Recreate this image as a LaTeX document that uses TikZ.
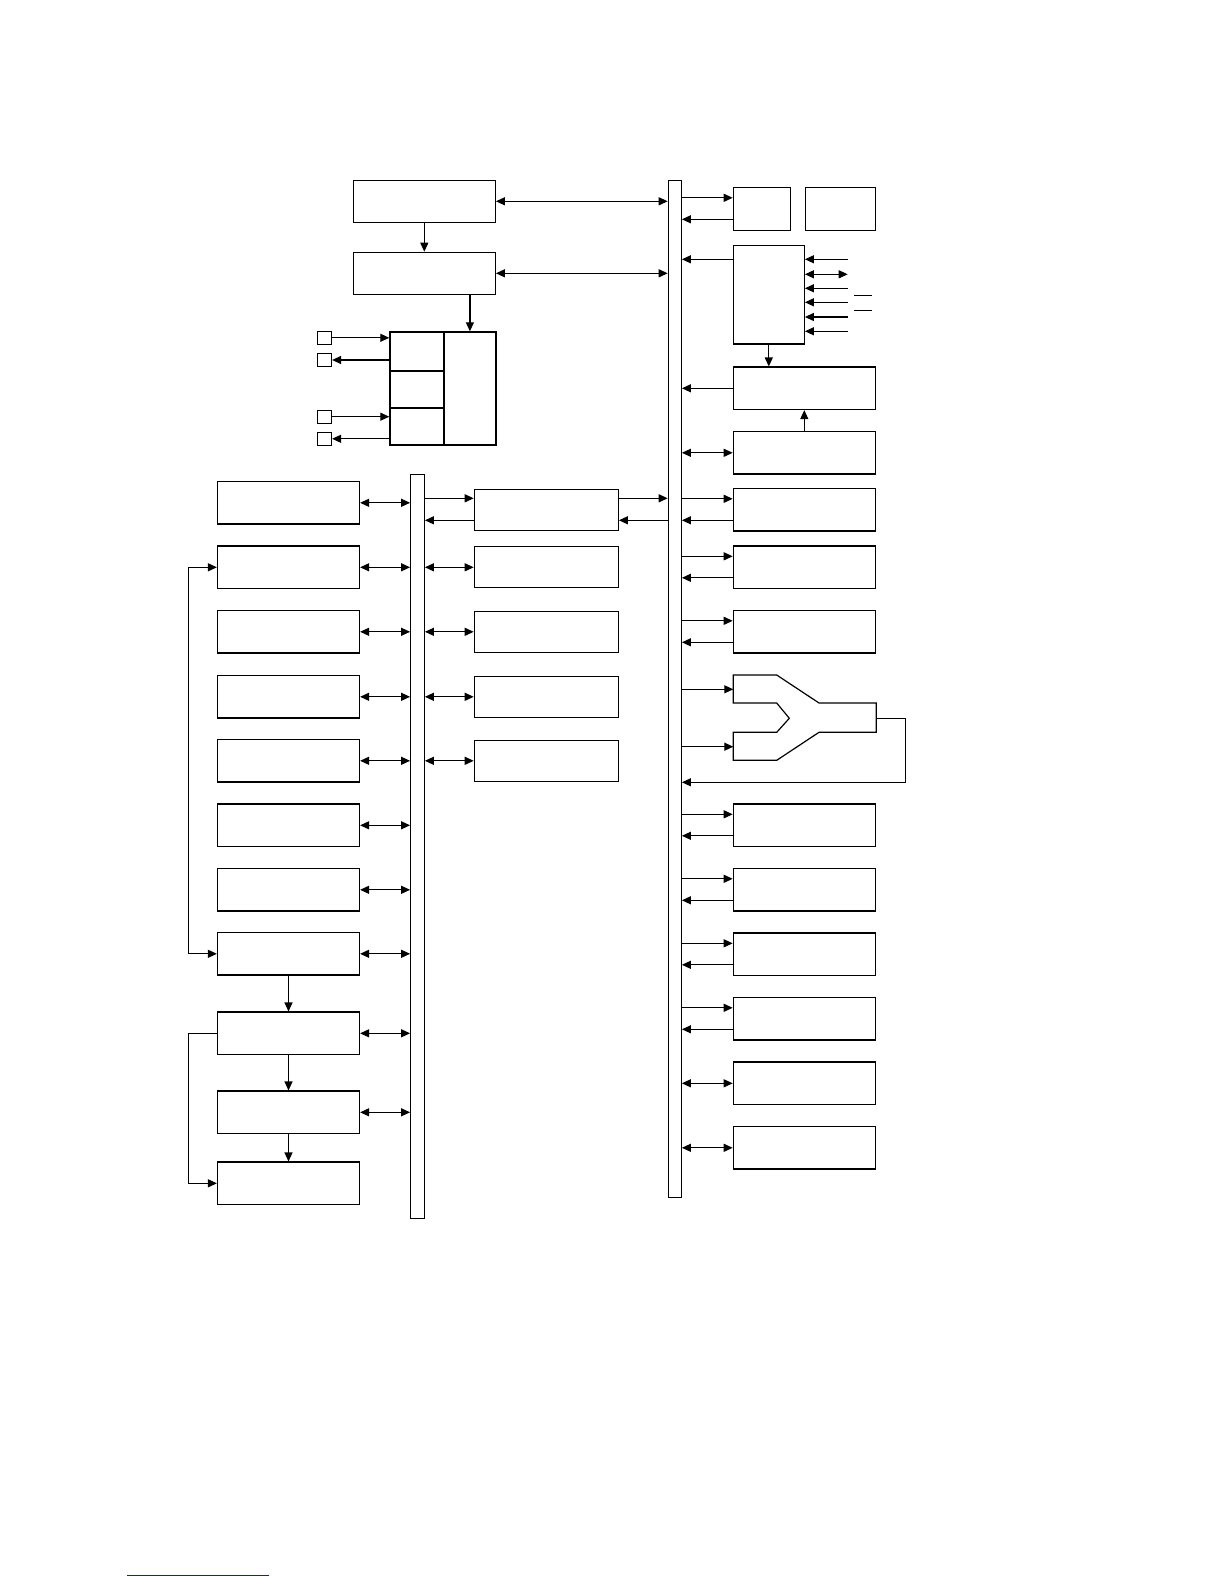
\documentclass[tikz,border=0pt]{standalone}
\usepackage{xcolor}
\usepackage{tikz}
\usetikzlibrary{
  positioning,
  arrows.meta,
  calc
}
\definecolor{rulecolor}{RGB}{30,30,150}
\tikzset{
  >=Triangle,
  flowarrow/.style={-{Triangle[length=9pt,width=8pt]}},
  dualarrow/.style={{Triangle[length=9pt,width=8pt]}-{Triangle[length=9pt,width=8pt]}},
  block/.style={rectangle,draw,minimum width=142pt,minimum height=42.5pt,inner sep=0pt},
  midblock/.style={block,minimum width=144pt,minimum height=41pt},
  busbar/.style={rectangle,draw,minimum width=13pt,inner sep=0pt},
  cell/.style={rectangle,draw,anchor=north west,inner sep=0pt},
  pinbox/.style={rectangle,draw,minimum width=14pt,minimum height=13pt,inner sep=0pt}
}

\begin{document}
\begin{tikzpicture}[x=1pt,y=-1pt,line width=1.2pt,on grid]
    \useasboundingbox (0,0) rectangle (1224,1584);

    % buses
    \node[busbar,minimum height=1017pt] (bus1) at (674.8,688.8) {};
    \node[busbar,minimum width=13.6pt,minimum height=744pt] (bus2) at (417.5,846.3) {};

    % top left chain
    \node[block,minimum height=42pt] (A) at (424.3,201.3) {};
    \node[block,minimum height=42pt,below=72pt of A] (B) {};
    \node[cell,minimum width=54pt,minimum height=39pt] (C1) at (389.3,331.3) {};
    \node[cell,minimum width=54pt,minimum height=37pt] (C2) at (389.3,370.3) {};
    \node[cell,minimum width=54pt,minimum height=37pt] (C3) at (389.3,407.3) {};
    \node[cell,minimum width=52pt,minimum height=113pt] (Cr) at (443.3,331.3) {};
    \node[pinbox] (s1) at (324.5,337.8) {};
    \node[pinbox] (s2) at (324.5,360.0) {};
    \node[pinbox] (s3) at (324.5,416.7) {};
    \node[pinbox] (s4) at (324.5,438.8) {};

    \draw[dualarrow] (A.east) -- (A.east -| bus1.west);
    \draw[dualarrow] (B.east) -- (B.east -| bus1.west);
    \draw[flowarrow] (A) -- (B);
    \draw[flowarrow] (B.south -| Cr.north) -- (Cr.north);
    \draw[flowarrow] (s1) -- (s1 -| C1.west);
    \draw[flowarrow] (s2 -| C1.west) -- (s2);
    \draw[flowarrow] (s3) -- (s3 -| C3.west);
    \draw[flowarrow] (s4 -| C3.west) -- (s4);

    % right column, top
    \node[block,minimum width=57pt,minimum height=43pt] (D1) at (761.8,208.8) {};
    \node[block,minimum width=70pt,minimum height=43pt,right=78.5pt of D1] (D2) {};
    \node[block,minimum width=71pt,minimum height=98.7pt] (E) at (768.8,294.7) {};
    \node[block] (G) at (804.3,452.8) {};
    \node[block,above=64.5pt of G] (F) {};

    \coordinate (p1) at (847.7,259.3);
    \coordinate (p2) at (847.7,274.3);
    \coordinate (p3) at (847.7,288.3);
    \coordinate (p4) at (847.7,302.3);
    \coordinate (p5) at (847.7,317.0);
    \coordinate (p6) at (847.7,331.3);

    \draw[flowarrow] ($(D1.west -| bus1.east)+(0,11pt)$) -- ($(D1.west)+(0,11pt)$);
    \draw[flowarrow] ($(D1.west)+(0,-10.5pt)$) -- ($(D1.west -| bus1.east)+(0,-10.5pt)$);
    \draw[flowarrow] (p1 -| E.west) -- (p1 -| bus1.east);
    \draw[flowarrow] (p1) -- (p1 -| E.east);
    \draw[dualarrow] (p2) -- (p2 -| E.east);
    \draw[flowarrow] (p3) -- (p3 -| E.east);
    \draw[flowarrow] (p4) -- (p4 -| E.east);
    \draw[flowarrow] (p5) -- (p5 -| E.east);
    \draw[flowarrow] (p6) -- (p6 -| E.east);
    \draw (854,295.7) -- (872,295.7);
    \draw (854,310.7) -- (872,310.7);
    \draw[flowarrow] (E.south) -- (E.south |- F.north);
    \draw[flowarrow] (F.west) -- (F.west -| bus1.east);
    \draw[flowarrow] (G) -- (F);
    \draw[dualarrow] (G.west) -- (G.west -| bus1.east);

    % right column, blocks
    \node[block,below=57pt of G] (R1) {};
    \node[block,below=57.5pt of R1] (R2) {};
    \node[block,below=64.5pt of R2] (R3) {};
    \node[block] (R4) at (804.3,825.3) {};
    \node[block,below=64.5pt of R4] (R5) {};
    \node[block,below=64.5pt of R5] (R6) {};
    \node[block,below=64.5pt of R6] (R7) {};
    \node[block,below=64.5pt of R7] (R8) {};
    \node[block,below=64.5pt of R8] (R9) {};

    \draw[flowarrow] ($(R1.west -| bus1.east)+(0,11pt)$) -- ($(R1.west)+(0,11pt)$);
    \draw[flowarrow] ($(R1.west)+(0,-10.5pt)$) -- ($(R1.west -| bus1.east)+(0,-10.5pt)$);
    \draw[flowarrow] ($(R2.west -| bus1.east)+(0,11pt)$) -- ($(R2.west)+(0,11pt)$);
    \draw[flowarrow] ($(R2.west)+(0,-10.5pt)$) -- ($(R2.west -| bus1.east)+(0,-10.5pt)$);
    \draw[flowarrow] ($(R3.west -| bus1.east)+(0,11pt)$) -- ($(R3.west)+(0,11pt)$);
    \draw[flowarrow] ($(R3.west)+(0,-10.5pt)$) -- ($(R3.west -| bus1.east)+(0,-10.5pt)$);
    \draw[flowarrow] ($(R4.west -| bus1.east)+(0,11pt)$) -- ($(R4.west)+(0,11pt)$);
    \draw[flowarrow] ($(R4.west)+(0,-10.5pt)$) -- ($(R4.west -| bus1.east)+(0,-10.5pt)$);
    \draw[flowarrow] ($(R5.west -| bus1.east)+(0,11pt)$) -- ($(R5.west)+(0,11pt)$);
    \draw[flowarrow] ($(R5.west)+(0,-10.5pt)$) -- ($(R5.west -| bus1.east)+(0,-10.5pt)$);
    \draw[flowarrow] ($(R6.west -| bus1.east)+(0,11pt)$) -- ($(R6.west)+(0,11pt)$);
    \draw[flowarrow] ($(R6.west)+(0,-10.5pt)$) -- ($(R6.west -| bus1.east)+(0,-10.5pt)$);
    \draw[flowarrow] ($(R7.west -| bus1.east)+(0,11pt)$) -- ($(R7.west)+(0,11pt)$);
    \draw[flowarrow] ($(R7.west)+(0,-10.5pt)$) -- ($(R7.west -| bus1.east)+(0,-10.5pt)$);
    \draw[dualarrow] (R8.west) -- (R8.west -| bus1.east);
    \draw[dualarrow] (R9.west) -- (R9.west -| bus1.east);

    % merging block
    \draw (733.3,675) -- (776.7,675) -- (819,703) -- (876.3,703) -- (876.3,732.3)
      -- (819,732.3) -- (776.7,760.3) -- (733.3,760.3) -- (733.3,732.3)
      -- (776.7,732.3) -- (789.3,718.3) -- (776.7,703) -- (733.3,703) -- cycle;
    \coordinate (yin1) at (733.3,689.3);
    \coordinate (yin2) at (733.3,746.7);
    \coordinate (yout) at (876.3,718.3);
    \coordinate (yloop) at (905.7,782.3);
    \draw[flowarrow] (yin1 -| bus1.east) -- (yin1);
    \draw[flowarrow] (yin2 -| bus1.east) -- (yin2);
    \draw[flowarrow] (yout) -| (yloop) -- (yloop -| bus1.east);

    % middle column
    \node[midblock] (M1) at (546.3,509.8) {};
    \node[midblock,below=57.5pt of M1] (M2) {};
    \node[midblock,below=64.5pt of M2] (M3) {};
    \node[midblock,below=65pt of M3] (M4) {};
    \node[midblock,below=64pt of M4] (M5) {};

    \draw[flowarrow] ($(M1.west -| bus2.east)+(0,11.5pt)$) -- ($(M1.west)+(0,11.5pt)$);
    \draw[flowarrow] ($(M1.west)+(0,-10.5pt)$) -- ($(M1.west -| bus2.east)+(0,-10.5pt)$);
    \draw[flowarrow] ($(M1.east)+(0,11.5pt)$) -- ($(M1.east -| bus1.west)+(0,11.5pt)$);
    \draw[flowarrow] ($(M1.east -| bus1.west)+(0,-10.5pt)$) -- ($(M1.east)+(0,-10.5pt)$);
    \draw[dualarrow] (M2.west) -- (M2.west -| bus2.east);
    \draw[dualarrow] (M3.west) -- (M3.west -| bus2.east);
    \draw[dualarrow] (M4.west) -- (M4.west -| bus2.east);
    \draw[dualarrow] (M5.west) -- (M5.west -| bus2.east);

    % left column
    \node[block] (L1) at (288.5,502.8) {};
    \node[block,below=64.5pt of L1] (L2) {};
    \node[block,below=64.5pt of L2] (L3) {};
    \node[block,below=65pt of L3] (L4) {};
    \node[block,below=64pt of L4] (L5) {};
    \node[block,below=64.5pt of L5] (L6) {};
    \node[block,below=64.5pt of L6] (L7) {};
    \node[block,below=64pt of L7] (L8) {};
    \node[block,below=79.5pt of L8] (L9) {};
    \node[block,below=79pt of L9] (L10) {};
    \node[block,below=71pt of L10] (L11) {};
    \coordinate (fb) at (188.3,1000);

    \draw[dualarrow] (L1.east) -- (L1.east -| bus2.west);
    \draw[dualarrow] (L2.east) -- (L2.east -| bus2.west);
    \draw[dualarrow] (L3.east) -- (L3.east -| bus2.west);
    \draw[dualarrow] (L4.east) -- (L4.east -| bus2.west);
    \draw[dualarrow] (L5.east) -- (L5.east -| bus2.west);
    \draw[dualarrow] (L6.east) -- (L6.east -| bus2.west);
    \draw[dualarrow] (L7.east) -- (L7.east -| bus2.west);
    \draw[dualarrow] (L8.east) -- (L8.east -| bus2.west);
    \draw[dualarrow] (L9.east) -- (L9.east -| bus2.west);
    \draw[dualarrow] (L10.east) -- (L10.east -| bus2.west);
    \draw[dualarrow] (L2.west) -| (fb |- L8.west) -- (L8.west);
    \draw[flowarrow] (L9.west) -| (fb |- L11.west) -- (L11.west);
    \draw[flowarrow] (L8) -- (L9);
    \draw[flowarrow] (L9) -- (L10);
    \draw[flowarrow] (L10) -- (L11);

    % rule at the foot of the page
    \draw[rulecolor,line width=1pt] (127.3,1575) -- (269,1575);
\end{tikzpicture}
\end{document}
